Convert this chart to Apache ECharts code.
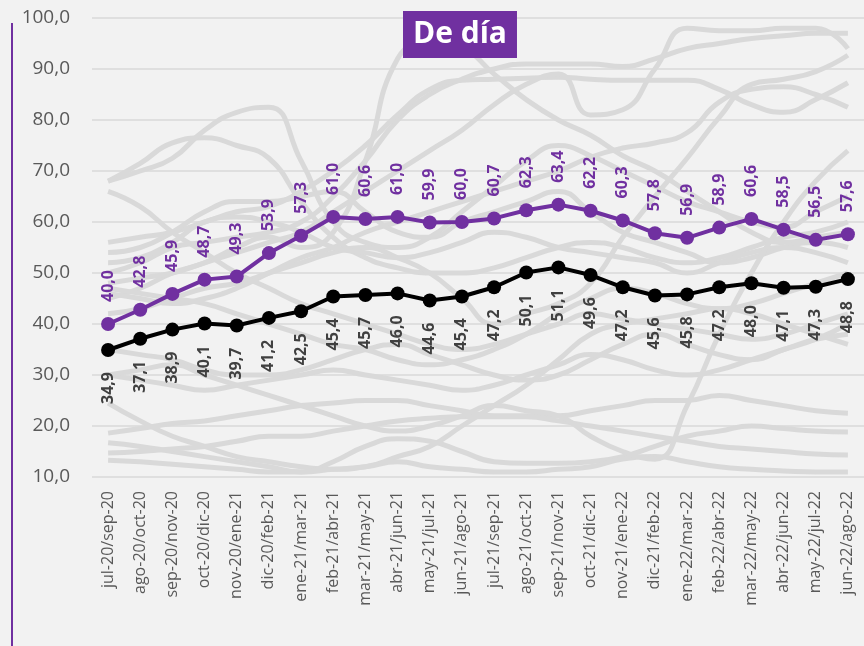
<!DOCTYPE html>
<html>
<head>
<meta charset="utf-8">
<script src="https://cdn.jsdelivr.net/npm/echarts@6/dist/echarts.min.js"></script>
<style>
  html, body { margin: 0; padding: 0; background: #f2f2f2; }
  #chart { width: 864px; height: 646px; }
</style>
</head>
<body>
<div id="chart"></div>
<script>
// Periods (three-month rolling windows)
const categories = [
  'jul-20/sep-20', 'ago-20/oct-20', 'sep-20/nov-20', 'oct-20/dic-20', 'nov-20/ene-21',
  'dic-20/feb-21', 'ene-21/mar-21', 'feb-21/abr-21', 'mar-21/may-21', 'abr-21/jun-21',
  'may-21/jul-21', 'jun-21/ago-21', 'jul-21/sep-21', 'ago-21/oct-21', 'sep-21/nov-21',
  'oct-21/dic-21', 'nov-21/ene-22', 'dic-21/feb-22', 'ene-22/mar-22', 'feb-22/abr-22',
  'mar-22/may-22', 'abr-22/jun-22', 'may-22/jul-22', 'jun-22/ago-22'
];

// Highlighted series
const purpleValues = [40.0, 42.8, 45.9, 48.7, 49.3, 53.9, 57.3, 61.0, 60.6, 61.0, 59.9, 60.0,
  60.7, 62.3, 63.4, 62.2, 60.3, 57.8, 56.9, 58.9, 60.6, 58.5, 56.5, 57.6];
const blackValues = [34.9, 37.1, 38.9, 40.1, 39.7, 41.2, 42.5, 45.4, 45.7, 46.0, 44.6, 45.4,
  47.2, 50.1, 51.1, 49.6, 47.2, 45.6, 45.8, 47.2, 48.0, 47.1, 47.3, 48.8];

// Background series (context lines)
const grey01 = [68, 71.5, 75.5, 76.5, 75, 72.5, 64, 57, 53, 51, 50, 50, 51, 53, 55, 56, 55, 53, 52, 53, 55, 57, 58, 60];
const grey02 = [68, 70, 72.5, 78, 81.5, 82.5, 72, 60, 56, 55, 57, 62, 67, 72, 75, 73, 70, 67, 64, 62, 60, 59, 62, 65];
const grey03 = [45, 47, 50, 52, 55, 57, 55, 58, 72, 92, 95, 94, 89, 84, 80, 77, 73, 70, 66, 62, 58, 56, 57, 58];
const grey04 = [50, 52, 55, 56, 57, 58, 60, 65, 72, 80, 85, 88, 90, 91, 91, 91, 90.5, 92, 94, 95, 96, 96.5, 97, 97];
const grey05 = [56, 57, 58, 60, 62, 63, 66, 70, 75, 81, 86, 87.8, 88, 88.2, 88.4, 88, 87.8, 87.8, 87.8, 86, 83, 81.5, 84, 87.3];
const grey06 = [48, 49, 50, 52, 54, 56, 58, 62, 66, 70, 74, 78, 83, 87, 89, 81, 82, 90, 98, 97.5, 97.5, 98, 98, 94];
const grey07 = [46, 45, 44, 45, 47, 50, 53, 55, 58, 60, 62, 64, 66, 68, 70, 72.7, 74.5, 75.5, 77.5, 83.5, 86, 86.5, 85, 82.5];
const grey08 = [42, 43, 45, 47, 48, 50, 52, 54, 55, 53, 50, 45, 40, 42, 44, 48, 57, 65, 72.5, 80.5, 87, 88, 89.5, 92.7];
const grey09 = [66, 63, 58, 54, 50, 47, 44, 42, 40, 38, 36, 35, 36, 38, 40, 42, 41, 40, 39, 38, 37, 38, 40, 42];
const grey10 = [54, 55, 58, 62, 64, 64, 65, 66, 62, 58, 57, 60, 62, 64, 66, 62, 58, 56, 54, 52, 53, 55, 56, 55];
const grey11 = [52, 53, 56, 60, 61, 60, 58, 55, 54, 53, 54, 56, 58, 57, 55, 54, 53, 52, 50, 52, 54, 55, 54, 52];
const grey12 = [47, 46, 45, 44, 42, 40, 38, 36, 35, 33, 32, 33, 35, 38, 42, 45, 47, 46, 44, 43, 44, 46, 48, 50];
const grey13 = [35, 34, 33, 31, 30, 30, 31, 33, 35, 36, 34, 32, 30, 29, 30, 33, 36, 38, 36, 34, 33, 35, 37, 40];
const grey14 = [30, 29, 28, 27, 28, 29, 30, 31, 30, 29, 28, 27, 28, 30, 32, 34, 33, 31, 30, 31, 33, 35, 37, 38];
const grey15 = [24.5, 21, 18, 16, 14, 13, 12, 11.5, 12, 14, 16, 20, 24, 28, 33, 38, 40, 41, 42, 43, 42, 40, 38, 36];
const grey16 = [18.6, 19.5, 20.5, 21, 22, 23, 24, 24.5, 25, 25, 24, 23, 22, 22, 22, 23, 24, 25, 25, 26, 25, 24, 23, 22.5];
const grey17 = [16.7, 16, 15, 14, 13, 12, 11, 13, 16, 17.5, 17, 15, 13, 12.7, 12.7, 13, 14, 16, 18, 19, 20, 19.5, 19, 18.8];
const grey18 = [14.7, 15, 15.5, 16, 17, 18, 18, 19, 20, 21, 21.5, 21.8, 21.8, 21.8, 21, 20, 19, 18, 17, 16, 15.5, 15, 14.5, 14.3];
const grey19 = [13.3, 13, 12.5, 12, 11.5, 11, 11, 11.5, 12, 13, 12, 11.5, 11, 11, 11.5, 12, 13.5, 14, 13, 12, 11.5, 11.2, 11, 11];
const grey20 = [30, 31, 32, 30, 28, 26, 24, 22, 20, 19, 20, 22, 24, 23, 22, 18, 15, 13.5, 24, 38, 50, 60, 68, 74];

const greySeriesData = [grey01, grey02, grey03, grey04, grey05, grey06, grey07, grey08, grey09, grey10,
  grey11, grey12, grey13, grey14, grey15, grey16, grey17, grey18, grey19, grey20];

// Axis ticks
const yMin = 10, yMax = 100, yStep = 10;

const FONT = "'Open Sans', 'Noto Sans', sans-serif";
const PURPLE = '#7030a0';
const fmt = v => v.toFixed(1).replace('.', ',');

const chart = echarts.init(document.getElementById('chart'), null, { renderer: 'canvas' });

const greySeries = greySeriesData.map(d => ({
  type: 'line',
  data: d,
  smooth: 0.5,
  showSymbol: false,
  silent: true,
  z: 1,
  lineStyle: { color: '#d9d9d9', width: 5 }
}));

chart.setOption({
  backgroundColor: '#f2f2f2',
  animation: false,
  title: {
    text: 'De día',
    left: 403,
    top: 11,
    backgroundColor: PURPLE,
    padding: [8, 10, 9, 10],
    textStyle: { color: '#ffffff', fontSize: 30, fontWeight: 'bold', fontFamily: FONT }
  },
  graphic: [{
    type: 'line',
    shape: { x1: 12, y1: 23, x2: 12, y2: 646 },
    style: { stroke: PURPLE, lineWidth: 2 }
  }],
  grid: { left: 92, right: 0, top: 18, bottom: 169 },
  xAxis: {
    type: 'category',
    data: categories,
    boundaryGap: true,
    axisLine: { show: false },
    axisTick: { show: false },
    axisLabel: {
      rotate: 90,
      margin: 14,
      color: '#595959',
      fontSize: 16,
      fontFamily: FONT
    }
  },
  yAxis: {
    type: 'value',
    min: yMin,
    max: yMax,
    interval: yStep,
    axisLine: { show: false },
    axisTick: { show: false },
    splitLine: { lineStyle: { color: '#d9d9d9', width: 1.5 } },
    axisLabel: {
      margin: 22,
      color: '#595959',
      fontSize: 19,
      fontFamily: FONT,
      formatter: v => fmt(v)
    }
  },
  series: greySeries.concat([
    {
      type: 'line',
      data: blackValues,
      z: 5,
      symbol: 'circle',
      symbolSize: 14,
      lineStyle: { color: '#000000', width: 4 },
      itemStyle: { color: '#000000' },
      label: {
        show: true,
        position: 'bottom',
        rotate: 90,
        align: 'right',
        verticalAlign: 'middle',
        distance: 15,
        color: '#404040',
        fontSize: 16,
        fontWeight: 'bold',
        fontFamily: FONT,
        formatter: p => fmt(p.value)
      }
    },
    {
      type: 'line',
      data: purpleValues,
      z: 6,
      symbol: 'circle',
      symbolSize: 14,
      lineStyle: { color: PURPLE, width: 4 },
      itemStyle: { color: PURPLE },
      label: {
        show: true,
        position: 'top',
        rotate: 90,
        align: 'left',
        verticalAlign: 'middle',
        distance: 15,
        color: PURPLE,
        fontSize: 16,
        fontWeight: 'bold',
        fontFamily: FONT,
        formatter: p => fmt(p.value)
      }
    }
  ])
});
</script>
</body>
</html>
